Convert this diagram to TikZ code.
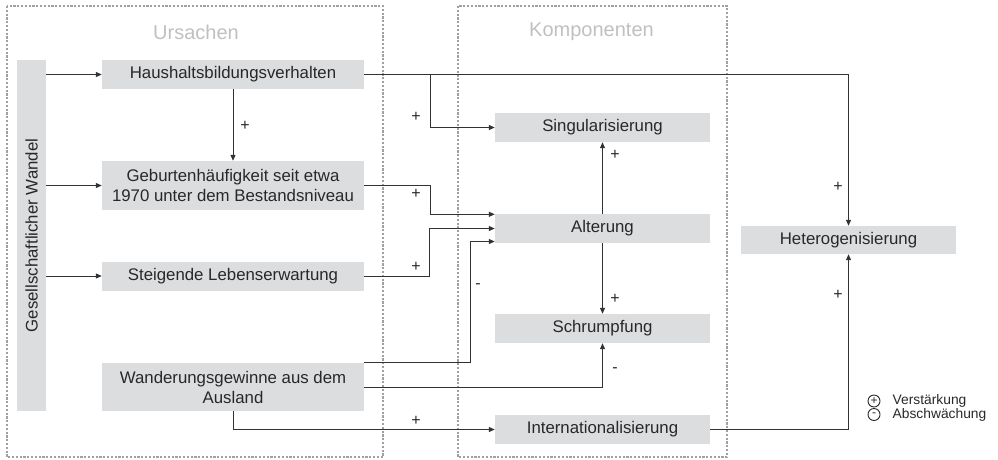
\documentclass[tikz,border=0pt]{standalone}
\usepackage{fontspec}
\setmainfont{Liberation Sans}
\usetikzlibrary{arrows.meta}
\definecolor{boxgray}{RGB}{220,221,222}
\definecolor{framegray}{RGB}{160,160,160}
\definecolor{titlegray}{RGB}{192,192,192}
\definecolor{ink}{RGB}{40,40,40}
\definecolor{wire}{RGB}{50,50,50}
\begin{document}
\begin{tikzpicture}[x=1pt,y=-1pt,
  every node/.style={text=ink, font=\fontsize{16.8}{20}\selectfont},
  box/.style={fill=boxgray, draw=none, inner sep=0pt, align=center},
  wide/.style={box, minimum width=262pt},
  comp/.style={box, minimum width=215pt, minimum height=29pt},
  frame/.style={draw=framegray, line width=2.4pt, dash pattern=on 2.2pt off 1.6pt},
  title/.style={text=titlegray, font=\fontsize{20}{24}\selectfont},
  arr/.style={draw=wire, line width=1pt, -{Triangle[length=6pt,width=5pt]}},
  sign/.style={font=\fontsize{16}{18}\selectfont, inner sep=0pt},
  legend/.style={font=\fontsize{13.8}{15}\selectfont, anchor=west, inner sep=0pt},
  legcirc/.style={circle, draw=ink, line width=0.9pt, minimum size=12pt, inner sep=0pt,
                  font=\fontsize{12}{12}\selectfont}]
\useasboundingbox (0,0) rectangle (998,459);

% group frames and titles
\draw[frame] (7,6) rectangle (383,457);
\draw[frame] (458,6) rectangle (727,457);
\node[title] (tcause) at (196,32) {Ursachen};
\node[title] (tcomp) at (591.5,32) {Komponenten};

% driver bar
\node[box, minimum width=29pt, minimum height=351pt] (gw) at (31.5,235.5) {};
\node[rotate=90] (gwt) at (gw.center) {Gesellschaftlicher Wandel};

% causes
\node[wide, minimum height=29pt] (haus) at (233,74.5) {Haushaltsbildungsverhalten};
\node[wide, minimum height=49pt] (geb) at (233,185.5) {Geburtenhäufigkeit seit etwa\\1970 unter dem Bestandsniveau};
\node[wide, minimum height=29pt] (steig) at (233,276) {Steigende Lebenserwartung};
\node[wide, minimum height=48pt] (wand) at (233,387) {Wanderungsgewinne aus dem\\Ausland};

% components
\node[comp] (sing) at (602.5,127.5) {Singularisierung};
\node[comp] (alt) at (602.5,228.5) {Alterung};
\node[comp] (schr) at (602.5,328.5) {Schrumpfung};
\node[comp] (inter) at (602.5,429.5) {Internationalisierung};
\node[box, minimum width=215pt, minimum height=28pt] (het) at (848.5,240) {Heterogenisierung};

% bend points
\coordinate (hb) at (430.5,74.5);
\coordinate (g1) at (430.5,214.3);
\coordinate (s1) at (429.5,228.5);
\coordinate (w1) at (470,241.5);

% driver to causes
\draw[arr] (gw.east |- haus.west) -- (haus.west);
\draw[arr] (gw.east |- geb.west) -- (geb.west);
\draw[arr] (gw.east |- steig.west) -- (steig.west);

% causes to components
\draw[arr] (haus.south) -- (geb.north);
\draw[arr] (haus.east) -| (het.north);
\draw[arr] (hb) |- (sing.west);
\draw[arr] (geb.east) -| (g1) -- (g1 -| alt.west);
\draw[arr] (steig.east) -| (s1) -- (alt.west);
\draw[arr] (wand.north east) -| (w1) -- (w1 -| alt.west);
\draw[arr] (wand.east) -| (schr.south);
\draw[arr] (wand.south) |- (inter.west);

% among components
\draw[arr] (alt.north) -- (sing.south);
\draw[arr] (alt.south) -- (schr.north);
\draw[arr] (inter.east) -| (het.south);

% effect signs
\node[sign] (p1) at (245,126) {+};
\node[sign] (p2) at (416,117) {+};
\node[sign] (p3) at (416,194) {+};
\node[sign] (p4) at (416,267) {+};
\node[sign] (m1) at (478,286) {-};
\node[sign] (p5) at (416,421) {+};
\node[sign] (p6) at (615,155) {+};
\node[sign] (p7) at (615,299) {+};
\node[sign] (m2) at (615,370) {-};
\node[sign] (p8) at (838,187) {+};
\node[sign] (p9) at (838,295) {+};

% legend
\node[legcirc] (lp) at (874,401) {+};
\node[legcirc] (lm) at (874,414.5) {-};
\node[legend] (lpt) at (892.5,401) {Verstärkung};
\node[legend] (lmt) at (892.5,414.5) {Abschwächung};
\end{tikzpicture}
\end{document}
